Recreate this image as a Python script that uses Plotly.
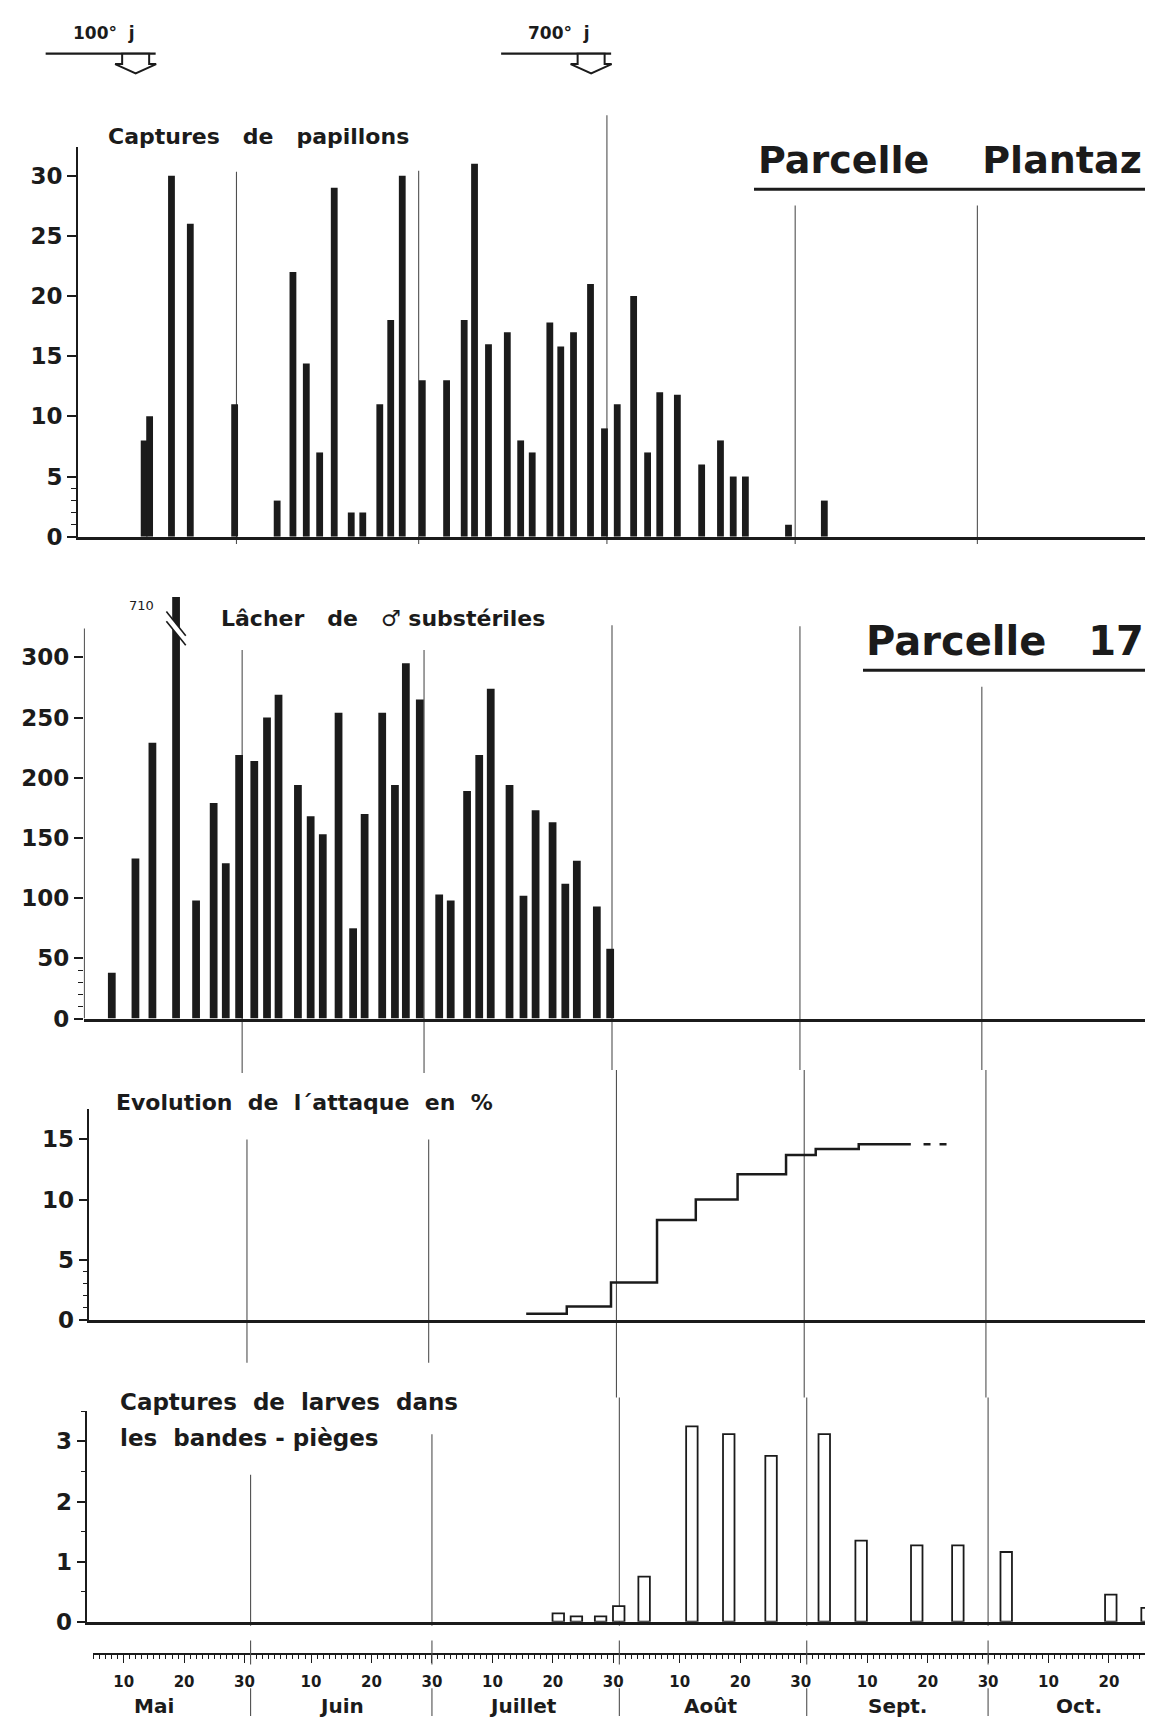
import plotly.graph_objects as go

W, H = 1153, 1724
FONT = "DejaVu Sans"
INK = "#1b1b1b"
THIN = "#505050"

# Jour de la saison : 1 = 1er mai, 32 = 1er juin, 62 = 1er juillet,
# 93 = 1er août, 124 = 1er septembre, 154 = 1er octobre
mois = ["Mai", "Juin", "Juillet", "Août", "Sept.", "Oct."]
debut_mois = [0, 31, 61, 92, 123, 153]
fin_mois = [31, 61, 92, 123, 153]
jours_graduation = [10, 20, 30]

# Captures de papillons - Parcelle Plantaz
papillons_jour = [15.8, 16.7, 20.3, 23.4, 30.7, 37.7, 40.3, 42.5, 44.7, 47.1,
                  49.9, 51.8, 54.6, 56.4, 58.3, 61.6, 65.6, 68.5, 70.2, 72.5,
                  75.6, 77.8, 79.7, 82.6, 84.4, 86.5, 89.3, 91.6, 93.7, 96.4,
                  98.7, 100.7, 103.6, 107.6, 110.7, 112.8, 114.8, 121.9, 127.8]
papillons_nb = [8, 10, 30, 26, 11, 3, 22, 14.4, 7, 29,
                2, 2, 11, 18, 30, 13, 13, 18, 31, 16,
                17, 8, 7, 17.8, 15.8, 17, 21, 9, 11, 20,
                7, 12, 11.8, 6, 8, 5, 5, 1, 3]

# Lâcher de mâles substériles - Parcelle 17
lacher_jour = [9.5, 13.4, 16.2, 20.1, 23.4, 26.3, 28.3, 30.5, 33.0, 35.1,
               37.0, 40.2, 42.3, 44.3, 46.9, 49.3, 51.2, 54.1, 56.2, 58.0,
               60.3, 63.5, 65.4, 68.1, 70.1, 72.0, 75.1, 77.4, 79.4, 82.2,
               84.3, 86.2, 89.5, 91.7]
lacher_nb = [38, 133, 229, 710, 98, 179, 129, 219, 214, 250,
             269, 194, 168, 153, 254, 75, 170, 254, 194, 295,
             265, 103, 98, 189, 219, 274, 194, 102, 173, 163,
             112, 131, 93, 58]
lacher_plafond = 350

# Evolution de l'attaque en %
attaque_jour = [77.1, 83.8, 91.1, 98.7, 105.1, 112.0, 120.0, 124.9, 132.0, 140.6]
attaque_pct = [0.5, 1.1, 3.1, 8.3, 10.0, 12.1, 13.7, 14.2, 14.6, 14.6]
attaque_suite_jour = [142.7, 146.7]

# Captures de larves dans les bandes-pièges
larves_jour = [81.9, 84.9, 88.9, 91.9, 96.1, 104.0, 110.1, 117.1, 125.9, 132.0,
               141.2, 148.0, 156.0, 173.3, 179.3]
larves_nb = [0.14, 0.09, 0.09, 0.26, 0.75, 3.25, 3.12, 2.76, 3.12, 1.35,
             1.27, 1.27, 1.16, 0.45, 0.23]

# Sommes de températures
degres_txt = ["100° j", "700° j"]
degres_jour = [14.4, 89.4]


def py(px):
    return 1 - px / H


def xdom(a, b, r0, r1):
    return [(a + b * r0) / W, (a + b * r1) / W]


# panel geometry: pixel mapping x = a + b*day, y pixel of 0 and of top
P = {
    1: dict(a=40.2, b=6.073, r0=4.9, r1=181.3, y0=532.7, y1=139.9, yr=[0, 32.4],
            tv=[0, 5, 10, 15, 20, 25, 30], mv=[1, 2, 3, 4]),
    2: dict(a=46.2, b=6.063, r0=4.9, r1=181.8, y0=1018.3, y1=593.6, yr=[0, lacher_plafond],
            tv=[0, 50, 100, 150, 200, 250, 300], mv=[10, 20, 30, 40]),
    3: dict(a=51.2, b=6.057, r0=5.0, r1=180.9, y0=1321.7, y1=1109.7, yr=[0, 17.5],
            tv=[0, 5, 10, 15], mv=[1, 2, 3, 4]),
    4: dict(a=55.2, b=6.045, r0=4.0, r1=181.1, y0=1626.0, y1=1414.0, yr=[0, 3.5],
            tv=[0, 1, 2, 3], mv=[0.5, 1.5, 2.5, 3.5]),
}

fig = go.Figure()

fig.add_trace(go.Bar(x=papillons_jour, y=papillons_nb, width=1.12,
                     marker=dict(color=INK, line=dict(width=0)),
                     xaxis="x", yaxis="y"))
lacher_aff = [min(v, lacher_plafond) for v in lacher_nb]
fig.add_trace(go.Bar(x=lacher_jour, y=lacher_aff, width=1.28,
                     marker=dict(color=INK, line=dict(width=0)),
                     xaxis="x2", yaxis="y2"))
fig.add_trace(go.Scatter(x=attaque_jour, y=attaque_pct, mode="lines",
                         line=dict(color=INK, width=2.5, shape="hv"),
                         xaxis="x3", yaxis="y3"))
fig.add_trace(go.Scatter(x=attaque_suite_jour, y=[attaque_pct[-1]] * len(attaque_suite_jour),
                         mode="lines", line=dict(color=INK, width=2.5, dash="7px,9px"),
                         xaxis="x3", yaxis="y3"))
fig.add_trace(go.Bar(x=larves_jour, y=larves_nb, width=1.9,
                     marker=dict(color="white", line=dict(color=INK, width=1.8)),
                     xaxis="x4", yaxis="y4"))
# ruler subplot (empty trace so that the axis is drawn)
fig.add_trace(go.Scatter(x=[None], y=[None], mode="lines", xaxis="x5", yaxis="y5"))

tickfont = dict(family=FONT, size=23, color=INK, weight="bold")
layout = dict(width=W, height=H, margin=dict(l=0, r=0, t=0, b=0),
              paper_bgcolor="white", plot_bgcolor="rgba(0,0,0,0)",
              showlegend=False, barmode="overlay", hovermode=False)

for k, p in P.items():
    sx = "" if k == 1 else str(k)
    layout["xaxis" + sx] = dict(domain=xdom(p["a"], p["b"], p["r0"], p["r1"]),
                                range=[p["r0"], p["r1"]], anchor="y" + sx,
                                showgrid=False, zeroline=False, showticklabels=False,
                                ticks="", showline=True, linecolor=INK, linewidth=2.6,
                                fixedrange=True)
    layout["yaxis" + sx] = dict(domain=[py(p["y0"]), py(p["y1"])], range=p["yr"],
                                anchor="x" + sx, showgrid=False, zeroline=False,
                                showline=(k != 2), linecolor=INK, linewidth=1.6,
                                ticks="outside", ticklen=9, tickwidth=1.6, tickcolor=INK,
                                tickvals=p["tv"], ticktext=[str(v) for v in p["tv"]],
                                tickfont=tickfont,
                                minor=dict(ticks="outside", tickvals=p["mv"], ticklen=5,
                                           tickwidth=1.2, tickcolor=INK),
                                fixedrange=True)

# ruler (calendar axis)
p4 = P[4]
r_tv, r_tt, r_minor = [], [], []
for m, off in enumerate(debut_mois):
    for d in range(5, 31, 5):
        j = off + d
        if j <= p4["r1"]:
            r_tv.append(j)
            r_tt.append(str(d) if d in jours_graduation else "")
for j in range(5, int(p4["r1"]) + 1):
    r_minor.append(j)
layout["xaxis5"] = dict(domain=xdom(p4["a"], p4["b"], 4.9, p4["r1"]), range=[4.9, p4["r1"]],
                        anchor="y5", showgrid=False, zeroline=False, showline=True,
                        linecolor=INK, linewidth=2.2, ticks="outside", ticklen=8,
                        tickwidth=1.4, tickcolor=INK, tickvals=r_tv, ticktext=r_tt,
                        ticklabelstandoff=6,
                        tickfont=dict(family=FONT, size=15, color=INK, weight="bold"),
                        minor=dict(ticks="outside", tickvals=r_minor, ticklen=4,
                                   tickwidth=1, tickcolor=INK),
                        fixedrange=True)
layout["yaxis5"] = dict(domain=[py(1657.3), py(1640)], range=[0, 1], visible=False,
                        anchor="x5", fixedrange=True)

shapes = []
annotations = []

# month-end vertical lines, per panel (pixel extents)
segments = {
    1: [(165, 540), (164, 540), (108, 540), (199, 540), (199, 540)],
    2: [(647, 1073), (647, 1073), (622, 1070), (623, 1070), (684, 1070)],
    3: [(1140, 1365), (1140, 1365), (1070, 1400), (1070, 1400), (1070, 1400)],
    4: [(1478, 1630), (1437, 1630), (1400, 1630), (1400, 1630), (1400, 1630)],
}
for k, segs in segments.items():
    sx = "x" if k == 1 else "x" + str(k)
    for jour, (yt, yb) in zip(fin_mois, segs):
        shapes.append(dict(type="line", xref=sx, yref="paper", x0=jour, x1=jour,
                           y0=py(yb), y1=py(yt), line=dict(color=THIN, width=1.1),
                           layer="below"))
for jour in fin_mois:
    for yt, yb in [(1645, 1669), (1693, 1721)]:
        shapes.append(dict(type="line", xref="x5", yref="paper", x0=jour, x1=jour,
                           y0=py(yb), y1=py(yt), line=dict(color=THIN, width=1.1)))

# panel 2 y axis line (stops below the clipped bar)
shapes.append(dict(type="line", xref="x2", yref="y2", x0=P[2]["r0"], x1=P[2]["r0"],
                   y0=0, y1=324, line=dict(color=INK, width=1.6)))

# break marks on the clipped release bar
i_max = lacher_nb.index(max(lacher_nb))
dj = lacher_jour[i_max]
def sl(x, xa, ya, xb, yb):
    return ya + (yb - ya) * (x - xa) / (xb - xa)
A = (dj - 1.6, 338, dj + 1.6, 318)
B = (dj - 1.6, 330, dj + 1.6, 310)
hw = 0.8
poly = "M {} {} L {} {} L {} {} L {} {} Z".format(
    dj - hw, sl(dj - hw, *A), dj + hw, sl(dj + hw, *A),
    dj + hw, sl(dj + hw, *B), dj - hw, sl(dj - hw, *B))
shapes.append(dict(type="path", xref="x2", yref="y2", path=poly,
                   fillcolor="white", line=dict(width=0), layer="above"))
for s in (A, B):
    shapes.append(dict(type="line", xref="x2", yref="y2", x0=s[0], y0=s[1], x1=s[2], y1=s[3],
                       line=dict(color=INK, width=1.6), layer="above"))
annotations.append(dict(x=dj, y=343, xref="x2", yref="y2", xshift=-35,
                        text=str(lacher_nb[i_max]), showarrow=False,
                        font=dict(family=FONT, size=13, color=INK),
                        xanchor="center", yanchor="middle"))

# degree-day arrows (positioned with the top panel's day scale, drawn in paper space)
a1, b1 = P[1]["a"], P[1]["b"]
for txt, j in zip(degres_txt, degres_jour):
    xp = a1 + b1 * j
    shapes.append(dict(type="line", xref="paper", yref="paper",
                       x0=(xp - 90) / W, x1=(xp + 20) / W,
                       y0=py(46), y1=py(46), line=dict(color=INK, width=2.4)))
    sh, hh = 13.5, 20.5
    path = ("M {a} {t} L {a} {s} L {c} {s} L {j} {p} L {d} {s} L {e} {s} L {e} {t} Z"
            .format(a=(xp - sh) / W, t=py(46), s=py(56.5), c=(xp - hh) / W, j=xp / W,
                    p=py(66), d=(xp + hh) / W, e=(xp + sh) / W))
    shapes.append(dict(type="path", xref="paper", yref="paper", path=path,
                       fillcolor="white", line=dict(color=INK, width=2)))
    annotations.append(dict(x=(xp - 32) / W, y=py(25), xref="paper", yref="paper",
                            text=txt.replace(" ", "\u00a0\u00a0"), showarrow=False,
                            font=dict(family=FONT, size=17, color=INK, weight="bold"),
                            xanchor="center", yanchor="middle"))

NB = "\u00a0"
def titre(txt, x, y, size):
    annotations.append(dict(x=x / W, y=py(y), xref="paper", yref="paper", text=txt,
                            showarrow=False, xanchor="left", yanchor="middle",
                            font=dict(family=FONT, size=size, color=INK, weight="bold")))

titre("Captures" + NB * 3 + "de" + NB * 3 + "papillons", 98, 129, 22)
titre("Lâcher" + NB * 3 + "de" + NB * 3 + "♂" + NB + "substériles", 211, 615, 22)
titre("Evolution" + NB * 2 + "de" + NB * 2 + "l´attaque" + NB * 2 + "en" + NB * 2 + "%",
      106, 1102.5, 22)
titre("Captures" + NB * 2 + "de" + NB * 2 + "larves" + NB * 2 + "dans", 110, 1405, 23)
titre("les" + NB * 2 + "bandes" + NB + "-" + NB + "pièges", 110, 1440.7, 23)
titre("Parcelle" + NB * 4 + "Plantaz", 748, 153, 38)
titre("Parcelle" + NB * 3 + "17", 856, 638, 40)
for x0, x1, y in [(746, 1140, 182.7), (855, 1142, 667.3)]:
    shapes.append(dict(type="line", xref="paper", yref="paper", x0=x0 / W, x1=x1 / W,
                       y0=py(y), y1=py(y), line=dict(color=INK, width=3)))

# month names
for nom, off in zip(mois, debut_mois):
    annotations.append(dict(x=off + 15, y=py(1710.7), xref="x5", yref="paper",
                            text=nom, showarrow=False,
                            font=dict(family=FONT, size=20, color=INK, weight="bold"),
                            xanchor="center", yanchor="middle"))

layout["shapes"] = shapes
layout["annotations"] = annotations
fig.update_layout(**layout)
fig.write_html("out.html")
